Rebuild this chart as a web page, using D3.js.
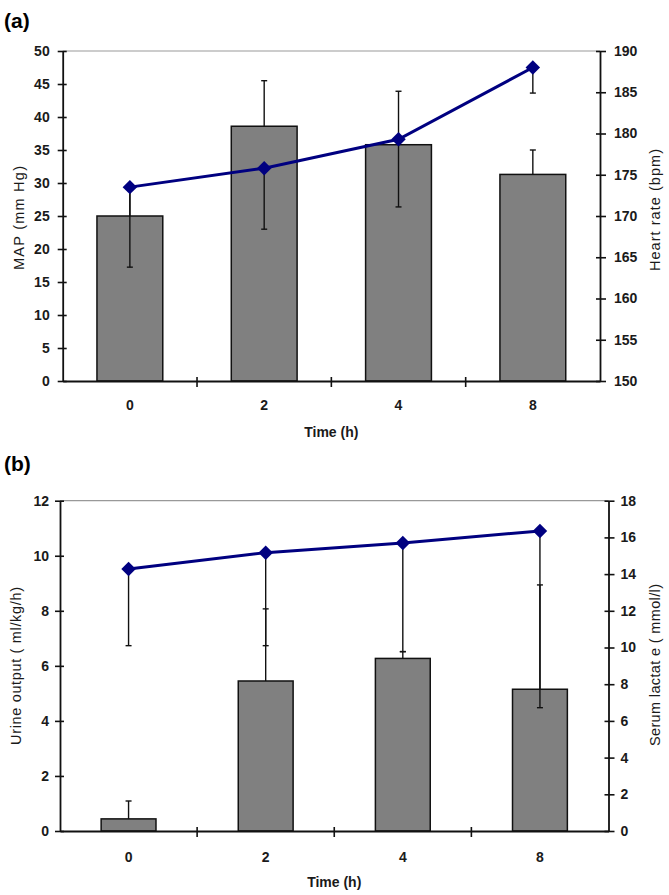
<!DOCTYPE html>
<html>
<head>
<meta charset="utf-8">
<script src="https://cdn.jsdelivr.net/npm/d3@7"></script>
<style>
  html, body { margin: 0; padding: 0; background: #fff; }
  svg { display: block; font-family: "Liberation Sans", Arial, sans-serif; }
</style>
</head>
<body>
<svg id="chart" width="669" height="895"></svg>
<script>
// ---------- DATA ----------
const categories = ["0", "2", "4", "8"];

// Panel (a)
const mapValues = [25.0, 38.6, 35.8, 31.3];        // MAP (mm Hg), bars
const mapErrors = [4.3, 6.9, 8.1, 3.7];            // + error
const heartRate = [173.5, 175.8, 179.3, 188.0];    // Heart rate (bpm), line
const heartRateErrors = [9.7, 7.4, 8.2, 3.1];      // - error
const mapTicks = [0, 5, 10, 15, 20, 25, 30, 35, 40, 45, 50];
const heartRateTicks = [150, 155, 160, 165, 170, 175, 180, 185, 190];

// Panel (b)
const urineValues = [0.44, 5.45, 6.27, 5.15];      // Urine output (ml/kg/h), bars
const urineErrors = [0.65, 2.62, 0.25, 3.79];      // + error
const lactateValues = [14.28, 15.17, 15.7, 16.35]; // Serum lactate (mmol/l), line
const lactateErrors = [4.18, 5.07, 5.93, 9.63];    // - error
const urineTicks = [0, 2, 4, 6, 8, 10, 12];
const lactateTicks = [0, 2, 4, 6, 8, 10, 12, 14, 16, 18];

// ---------- DRAW ----------
const svg = d3.select("#chart");
const TEXT = "#1a1a1a";

function drawPanel(cfg) {
  const g = svg.append("g");
  const x = d3.scaleBand().domain(categories).range([cfg.left, cfg.right])
    .paddingInner(cfg.pad).paddingOuter(cfg.pad / 2);
  const yL = d3.scaleLinear().domain(cfg.leftDomain).range([cfg.bottom, cfg.top]);
  const yR = d3.scaleLinear().domain(cfg.rightDomain).range([cfg.bottom, cfg.top]);
  const cx = c => x(c) + x.bandwidth() / 2;

  // panel letter
  g.append("text").attr("x", 4).attr("y", cfg.letterY)
    .attr("font-size", 21).attr("font-weight", "bold").attr("fill", "#000")
    .text(cfg.letter);

  // top border line (gray)
  g.append("line").attr("x1", cfg.left).attr("x2", cfg.right)
    .attr("y1", yL(cfg.leftDomain[1])).attr("y2", yL(cfg.leftDomain[1]))
    .attr("stroke", "#999").attr("stroke-width", 1.2);

  // bars
  g.selectAll("rect.bar").data(categories).join("rect")
    .attr("x", c => x(c)).attr("width", x.bandwidth())
    .attr("y", (c, i) => yL(cfg.barValues[i]))
    .attr("height", (c, i) => yL(cfg.leftDomain[0]) - yL(cfg.barValues[i]))
    .attr("fill", "#808080").attr("stroke", "#111").attr("stroke-width", 1.5);

  const capW = 3;
  // bar error bars (plus)
  categories.forEach((c, i) => {
    const y0 = yL(cfg.barValues[i]), y1 = yL(cfg.barValues[i] + cfg.barErrors[i]);
    g.append("line").attr("x1", cx(c)).attr("x2", cx(c)).attr("y1", y0).attr("y2", y1)
      .attr("stroke", "#111").attr("stroke-width", 1.4);
    g.append("line").attr("x1", cx(c) - capW).attr("x2", cx(c) + capW).attr("y1", y1).attr("y2", y1)
      .attr("stroke", "#111").attr("stroke-width", 1.4);
  });

  // line
  const line = d3.line().x((d, i) => cx(categories[i])).y(d => yR(d));
  g.append("path").datum(cfg.lineValues).attr("d", line)
    .attr("fill", "none").attr("stroke", "#000080").attr("stroke-width", 3);

  // line error bars (minus)
  categories.forEach((c, i) => {
    const y0 = yR(cfg.lineValues[i]), y1 = yR(cfg.lineValues[i] - cfg.lineErrors[i]);
    g.append("line").attr("x1", cx(c)).attr("x2", cx(c)).attr("y1", y0).attr("y2", y1)
      .attr("stroke", "#111").attr("stroke-width", 1.4);
    g.append("line").attr("x1", cx(c) - capW).attr("x2", cx(c) + capW).attr("y1", y1).attr("y2", y1)
      .attr("stroke", "#111").attr("stroke-width", 1.4);
  });

  // diamonds
  g.selectAll("path.marker").data(cfg.lineValues).join("path")
    .attr("d", d3.symbol(d3.symbolSquare, 105))
    .attr("transform", (d, i) => `translate(${cx(categories[i])},${yR(d)}) rotate(45)`)
    .attr("fill", "#000080");

  // left axis
  const axL = g.append("g").attr("transform", `translate(${cfg.left},0)`)
    .call(d3.axisLeft(yL).tickValues(cfg.leftTicks).tickSize(5).tickSizeOuter(0).tickPadding(cfg.lPad));
  axL.selectAll(".tick line").attr("x1", 4);
  // right axis
  const axR = g.append("g").attr("transform", `translate(${cfg.right},0)`)
    .call(d3.axisRight(yR).tickValues(cfg.rightTicks).tickSize(6).tickSizeOuter(0).tickPadding(cfg.rPad));
  axR.selectAll(".tick line").attr("x1", -4);
  // bottom axis (labels at centers, ticks at boundaries)
  const axB = g.append("g").attr("transform", `translate(0,${cfg.bottom})`)
    .call(d3.axisBottom(x).tickSize(0).tickSizeOuter(0).tickPadding(cfg.bPad));
  const gapHalf = (x.step() - x.bandwidth()) / 2;
  categories.slice(1).forEach(c => {
    const bx = x(c) - gapHalf;
    axB.append("line").attr("x1", bx).attr("x2", bx).attr("y1", -4).attr("y2", 6)
      .attr("stroke", "#111").attr("stroke-width", 1.6);
  });

  [axL, axR, axB].forEach(a => {
    a.select(".domain").attr("stroke", "#111").attr("stroke-width", 1.8);
    a.selectAll(".tick line").attr("stroke", "#111").attr("stroke-width", 1.6);
    a.selectAll(".tick text").attr("fill", TEXT).attr("font-size", 14)
      .attr("font-weight", "bold").attr("font-family", "'Liberation Sans', Arial, sans-serif");
  });

  // axis titles
  g.append("text").attr("x", (cfg.left + cfg.right) / 2).attr("y", cfg.xTitleY)
    .attr("text-anchor", "middle").attr("font-size", 14).attr("font-weight", "bold")
    .attr("fill", TEXT).text("Time (h)");
  g.append("text")
    .attr("transform", `translate(${cfg.lTitleX},${cfg.lTitleY}) rotate(-90)`)
    .attr("text-anchor", "middle").attr("font-size", 14.5).attr("fill", TEXT)
    .attr("textLength", cfg.lTitleLen).attr("lengthAdjust", "spacing")
    .text(cfg.lTitle);
  g.append("text")
    .attr("transform", `translate(${cfg.rTitleX},${cfg.rTitleY}) rotate(-90)`)
    .attr("text-anchor", "middle").attr("font-size", 14.5).attr("fill", TEXT)
    .attr("textLength", cfg.rTitleLen).attr("lengthAdjust", "spacing")
    .text(cfg.rTitle);
}

drawPanel({
  letter: "(a)", letterY: 28,
  left: 62.7, right: 600, top: 51, bottom: 381, pad: 0.51,
  leftDomain: [0, 50], rightDomain: [150, 190],
  leftTicks: mapTicks, rightTicks: heartRateTicks,
  barValues: mapValues, barErrors: mapErrors,
  lineValues: heartRate, lineErrors: heartRateErrors,
  lPad: 8, rPad: 8, bPad: 19, xTitleY: 437,
  lTitle: "MAP (mm Hg)", lTitleX: 24, lTitleY: 218, lTitleLen: 104,
  rTitle: "Heart rate (bpm)", rTitleX: 660, rTitleY: 210, rTitleLen: 122
});

drawPanel({
  letter: "(b)", letterY: 471,
  left: 60, right: 608.5, top: 500.7, bottom: 831, pad: 0.6,
  leftDomain: [0, 12], rightDomain: [0, 18],
  leftTicks: urineTicks, rightTicks: lactateTicks,
  barValues: urineValues, barErrors: urineErrors,
  lineValues: lactateValues, lineErrors: lactateErrors,
  lPad: 6, rPad: 6, bPad: 21, xTitleY: 887,
  lTitle: "Urine output ( ml/kg/h)", lTitleX: 21, lTitleY: 666, lTitleLen: 158,
  rTitle: "Serum lactat e ( mmol/l)", rTitleX: 660, rTitleY: 665, rTitleLen: 162
});
</script>
</body>
</html>
